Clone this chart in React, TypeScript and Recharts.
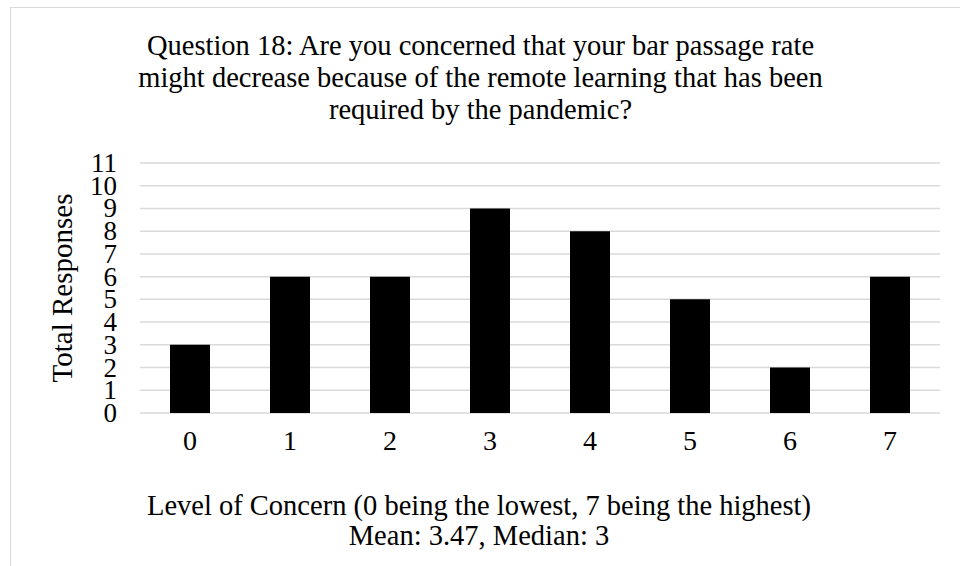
import React from 'react';
import { BarChart, Bar, XAxis, YAxis, CartesianGrid, Label } from 'recharts';

const levels = ['0', '1', '2', '3', '4', '5', '6', '7'];
const responses = [3, 6, 6, 9, 8, 5, 2, 6];
const yTicks = [0, 1, 2, 3, 4, 5, 6, 7, 8, 9, 10, 11];
const titleLines = [
  'Question 18: Are you concerned that your bar passage rate',
  'might decrease because of the remote learning that has been',
  'required by the pandemic?',
];
const xTitleLines = [
  'Level of Concern (0 being the lowest, 7 being the highest)',
  'Mean: 3.47, Median: 3',
];
const yTitle = 'Total Responses';

const data = levels.map((l, i) => ({ level: l, value: responses[i] }));

const FONT = '"Liberation Serif", "Times New Roman", serif';

const YTick = (props: any) => {
  const { x, y, payload } = props;
  return (
    <text x={x - 23} y={y} dy={9} textAnchor="end" fontFamily={FONT} fontSize={27} fill="#000">
      {payload.value}
    </text>
  );
};

const XTick = (props: any) => {
  const { x, y, payload } = props;
  return (
    <text x={x} y={y} dy={37} textAnchor="middle" fontFamily={FONT} fontSize={28} fill="#000">
      {payload.value}
    </text>
  );
};

export default function App() {
  return (
    <div style={{ position: 'absolute', left: 0, top: 0, width: 960, height: 566, overflow: 'hidden', background: '#fff' }}>
      <div
        style={{
          position: 'absolute',
          left: 10,
          top: 7,
          width: 1000,
          height: 700,
          border: '1.5px solid #d9d9d9',
          boxSizing: 'border-box',
        }}
      />
      <div
        style={{
          position: 'absolute',
          left: 0,
          top: 30,
          width: 961,
          textAlign: 'center',
          fontFamily: FONT,
          fontSize: 28.5,
          lineHeight: '32px',
          color: '#000',
        }}
      >
        {titleLines.map((t, i) => (
          <div key={i}>{t}</div>
        ))}
      </div>
      <div
        style={{
          position: 'absolute',
          left: 0,
          top: 491,
          width: 958,
          textAlign: 'center',
          fontFamily: FONT,
          fontSize: 28.5,
          lineHeight: '30px',
          color: '#000',
        }}
      >
        {xTitleLines.map((t, i) => (
          <div key={i}>{t}</div>
        ))}
      </div>
      <div style={{ position: 'absolute', left: 0, top: 0 }}>
        <BarChart
          width={960}
          height={566}
          data={data}
          margin={{ top: 163, right: 20, bottom: 123, left: 0 }}
          barCategoryGap="30%"
        >
          <CartesianGrid vertical={false} stroke="#d9d9d9" strokeWidth={1.5} />
          <XAxis
            dataKey="level"
            axisLine={false}
            tickLine={false}
            tickSize={0}
            tickMargin={0}
            tick={<XTick />}
            height={30}
            interval={0}
          />
          <YAxis
            type="number"
            domain={[0, 11]}
            ticks={yTicks}
            interval={0}
            axisLine={false}
            tickLine={false}
            width={140}
            tickMargin={0}
            tickSize={0}
            tick={<YTick />}
          >
            <Label
              value={yTitle}
              angle={-90}
              position="center"
              dx={-8}
              fontFamily={FONT}
              fontSize={29}
              fill="#000"
            />
          </YAxis>
          <Bar dataKey="value" fill="#000" isAnimationActive={false} />
        </BarChart>
      </div>
    </div>
  );
}
